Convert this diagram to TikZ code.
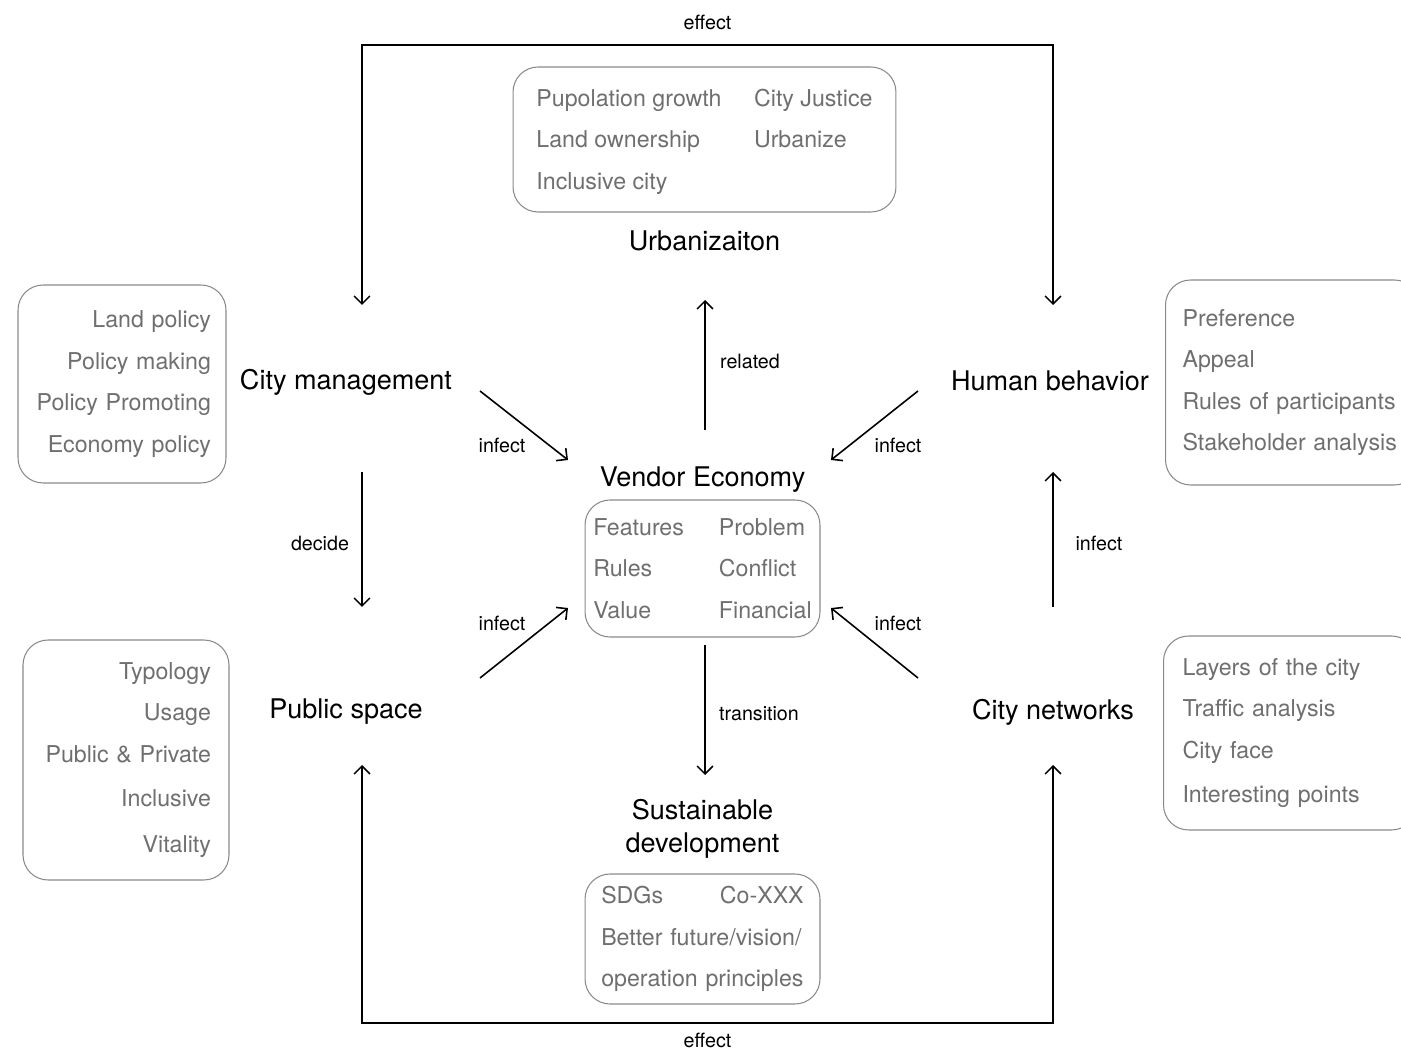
\documentclass[tikz,border=0pt]{standalone}
\usepackage{fontspec}
\setmainfont{TeX Gyre Heros}
\usepackage{xcolor}
\usetikzlibrary{positioning, arrows.meta}
\definecolor{itemgray}{HTML}{6F6F6F}
\definecolor{boxgray}{HTML}{8A8A8A}

\begin{document}
\begin{tikzpicture}[x=0.02cm, y=-0.02cm,
  >={Straight Barb[length=4.5pt, width=9pt]},
  topic/.style={font=\fontsize{15.4}{18.8}\selectfont, align=center},
  itembox/.style={draw=boxgray, line width=0.6pt, rounded corners=0.5cm, text=itemgray, font=\fontsize{13.2}{23.6}\selectfont},
  link/.style={line width=0.9pt},
  linklabel/.style={font=\fontsize{11.2}{13}\selectfont}]
\useasboundingbox (0,0) rectangle (1401,1050);
\clip (0,0) rectangle (1401,1050);

% boxes of keywords
\node[itembox, minimum width=7.66cm, minimum height=2.9cm] (urban_box) at (704.5,139.5)
  {\begin{tabular}{@{}l@{\hspace{0.65cm}}l@{}}Pupolation growth & City Justice\\ Land ownership & Urbanize\\ Inclusive city & \end{tabular}};
\node[itembox, text width=3.56cm, inner xsep=0.3cm, minimum height=3.96cm, align=right] (manage_box) at (122,384)
  {Land policy\\ Policy making\\ Policy Promoting\\ Economy policy};
\node[itembox, anchor=west, text width=4.4cm, inner xsep=0.34cm, minimum height=4.1cm, align=left] (behave_box) at (1165,382.5)
  {Preference\\ Appeal\\ Rules of participants\\ Stakeholder analysis};
\node[itembox, minimum width=4.7cm, minimum height=2.74cm] (vendor_box) at (702.5,568.5)
  {\begin{tabular}{@{}l@{\hspace{0.7cm}}l@{}}Features & Problem\\ Rules & Conflict\\ Value & Financial\end{tabular}};
\node[itembox, text width=3.4cm, inner xsep=0.36cm, minimum height=4.8cm, align=right] (public_box) at (126,760)
  {Typology\\ Usage\\ Public \& Private\\[1.7pt] Inclusive\\[2.3pt] Vitality};
\node[itembox, anchor=west, text width=4.3cm, inner xsep=0.38cm, minimum height=3.88cm, align=left] (network_box) at (1163,733)
  {Layers of the city\\ Traffic analysis\\ City face\\[1.7pt] Interesting points};
\node[itembox, text width=4.05cm, minimum width=4.7cm, minimum height=2.6cm, align=left] (sustain_box) at (702.5,939)
  {SDGs\hfill Co-XXX\\ Better future/vision/\\ operation principles};

% topics
\node[topic, below=0.25cm of urban_box] (urban) {Urbanizaiton};
\node[topic, above=0.02cm of vendor_box] (vendor) {Vendor Economy};
\node[topic, above=0.18cm of sustain_box] (sustain) {Sustainable\\development};
\node[topic] (manage) at (346,382) {City management};
\node[topic] (behave) at (1050,381) {Human behavior};
\node[topic] (public) at (346,712) {Public space};
\node[topic] (network) at (1053,712) {City networks};

% ends of the connectors
\coordinate (top_mid) at (708,45);
\coordinate (bot_mid) at (708,1023);
\coordinate (manage_in) at (362,305);
\coordinate (behave_in) at (1053,305);
\coordinate (public_in) at (362,765);
\coordinate (network_in) at (1053,765);
\coordinate (vendor_up) at (705,430);
\coordinate (urban_in) at (705,300);
\coordinate (manage_out) at (480,391);
\coordinate (vendor_nw) at (568,460);
\coordinate (behave_out) at (918,391);
\coordinate (vendor_ne) at (831,460);
\coordinate (public_out) at (480,678);
\coordinate (vendor_sw) at (568,608);
\coordinate (network_out) at (918,678);
\coordinate (vendor_se) at (831,608);
\coordinate (manage_down) at (362,472);
\coordinate (public_top) at (362,607);
\coordinate (network_top) at (1053,607);
\coordinate (behave_down) at (1053,472);
\coordinate (vendor_down) at (705,645);
\coordinate (sustain_in) at (705,775);

\draw[link, <->] (manage_in) -- (manage_in |- top_mid) -- node[linklabel, yshift=0.46cm] {effect} (behave_in |- top_mid) -- (behave_in);
\draw[link, <->] (public_in) -- (public_in |- bot_mid) -- node[linklabel, yshift=-0.35cm] {effect} (network_in |- bot_mid) -- (network_in);
\draw[link, ->] (vendor_up) -- node[linklabel, xshift=0.9cm, yshift=0.08cm] {related} (urban_in);
\draw[link, ->] (manage_out) -- node[linklabel, xshift=-0.44cm, yshift=-0.39cm] {infect} (vendor_nw);
\draw[link, ->] (behave_out) -- node[linklabel, xshift=0.47cm, yshift=-0.39cm] {infect} (vendor_ne);
\draw[link, ->] (public_out) -- node[linklabel, xshift=-0.44cm, yshift=0.4cm] {infect} (vendor_sw);
\draw[link, ->] (network_out) -- node[linklabel, xshift=0.47cm, yshift=0.4cm] {infect} (vendor_se);
\draw[link, ->] (manage_down) -- node[linklabel, xshift=-0.84cm, yshift=-0.07cm] {decide} (public_top);
\draw[link, ->] (network_top) -- node[linklabel, xshift=0.92cm, yshift=-0.07cm] {infect} (behave_down);
\draw[link, ->] (vendor_down) -- node[linklabel, xshift=1.08cm, yshift=-0.08cm] {transition} (sustain_in);
\end{tikzpicture}
\end{document}
